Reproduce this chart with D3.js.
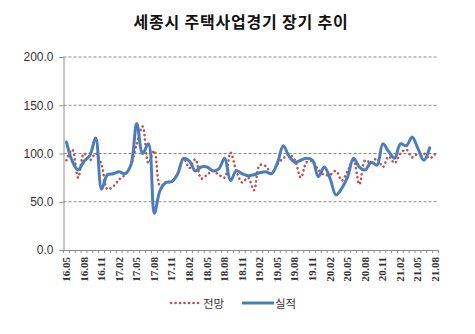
<!DOCTYPE html>
<html><head><meta charset="utf-8">
<script src="https://cdn.jsdelivr.net/npm/d3@7"></script>
<style>body{margin:0;background:#fff}svg{display:block}</style>
</head><body>
<script>
const title = "세종시 주택사업경기 장기 추이";
const months = [];
for (let y = 16; y <= 21; y++) for (let m = 1; m <= 12; m++) {
  if ((y === 16 && m < 5) || (y === 21 && m > 8)) continue;
  months.push(y + "." + String(m).padStart(2, "0"));
}
const forecast = [93,104,75,100,93,100,88,63,66,73,78,88,110,128,90,103,66,70,71,80,
  95,85,94,74,78,82,78,75,101,82,70,75,62,88,87,79,89,95,99,93,
  75,91,92,83,78,78,82,72,82,93,68,93,90,95,86,97,90,100,104,96,
  100,100,95,100];
const actual = [112,92,83,92,98,116,63,78,79,81,79,88,131,100,110,38,62,70,71,79,
  95,92,82,86,86,82,84,95,72,82,79,77,78,80,81,79,90,108,97,91,
  93,95,93,76,86,74,57,64,76,95,86,83,91,88,110,102,95,110,108,117,
  105,93,106];
const yTicks = [0, 50, 100, 150, 200];
const seriesNames = ["전망", "실적"];

const W = 475, H = 334;
const L = 63.5, R = 438.5, T = 57, B = 250;
const svg = d3.select("body").append("svg").attr("width", W).attr("height", H);

const x = d3.scaleBand().domain(months).range([L, R]).padding(0);
const y = d3.scaleLinear().domain([0, 200]).range([B, T]);
const cx = (i) => x(months[i]) + x.bandwidth() / 2;

svg.append("text").attr("x", 241).attr("y", 28).attr("text-anchor", "middle")
  .attr("font-family", "Noto Sans CJK KR").attr("font-weight", "bold")
  .attr("font-size", 16).attr("letter-spacing", 0.8).attr("fill", "#111").text(title);

// gridlines
svg.append("g").selectAll("line").data(yTicks.filter(d => d > 0)).join("line")
  .attr("x1", L).attr("x2", R).attr("y1", d => y(d)).attr("y2", d => y(d))
  .attr("stroke", "#8c8c8c").attr("stroke-width", 1).attr("stroke-dasharray", "3,2");

// y axis
const ya = svg.append("g").attr("transform", `translate(${L},0)`)
  .call(d3.axisLeft(y).tickValues(yTicks).tickFormat(d3.format(".1f")).tickSize(4).tickPadding(6));
ya.select(".domain").attr("stroke", "#8c8c8c");
ya.selectAll(".tick line").attr("stroke", "#8c8c8c");
ya.selectAll("text").attr("font-family", "Liberation Sans").attr("font-size", 12).attr("fill", "#333");

// x axis
const xa = svg.append("g").attr("transform", `translate(0,${B})`)
  .call(d3.axisBottom(x).tickValues(months).tickSize(0).tickFormat(""));
xa.select(".domain").attr("stroke", "#8c8c8c");
xa.selectAll(".tick").remove();
svg.append("g").selectAll("line").data(d3.range(months.length + 1)).join("line")
  .attr("x1", i => L + i * x.bandwidth()).attr("x2", i => L + i * x.bandwidth())
  .attr("y1", B).attr("y2", B + 3).attr("stroke", "#8c8c8c");
svg.append("g").selectAll("text").data(months.filter((d, i) => i % 3 === 0)).join("text")
  .attr("transform", d => `translate(${x(d) + x.bandwidth() / 2 + 3.5},${B + 7}) rotate(-90)`)
  .attr("text-anchor", "end").attr("font-family", "Liberation Serif").attr("font-weight", "bold")
  .attr("font-size", 11).attr("fill", "#333").text(d => d);

const line = d3.line().x((d, i) => cx(i)).y(d => y(d)).curve(d3.curveCatmullRom.alpha(0.5));
svg.append("path").attr("d", line(forecast)).attr("fill", "none")
  .attr("stroke", "#C0504D").attr("stroke-width", 2.6).attr("stroke-linecap", "round")
  .attr("stroke-dasharray", "0.1,4.4");
svg.append("path").attr("d", line(actual)).attr("fill", "none")
  .attr("stroke", "#4A7EBB").attr("stroke-width", 3).attr("stroke-linecap", "round");

// legend
const lg = svg.append("g");
lg.append("line").attr("x1", 171).attr("x2", 200).attr("y1", 303).attr("y2", 303)
  .attr("stroke", "#C0504D").attr("stroke-width", 2.6).attr("stroke-linecap", "round")
  .attr("stroke-dasharray", "0.1,4.4");
lg.append("text").attr("x", 203).attr("y", 307.5).attr("font-family", "Noto Sans CJK KR")
  .attr("font-size", 11.5).attr("fill", "#333").text(seriesNames[0]);
lg.append("line").attr("x1", 242).attr("x2", 274).attr("y1", 303).attr("y2", 303)
  .attr("stroke", "#4A7EBB").attr("stroke-width", 3);
lg.append("text").attr("x", 275).attr("y", 307.5).attr("font-family", "Noto Sans CJK KR")
  .attr("font-size", 11.5).attr("fill", "#333").text(seriesNames[1]);
</script>
</body></html>
